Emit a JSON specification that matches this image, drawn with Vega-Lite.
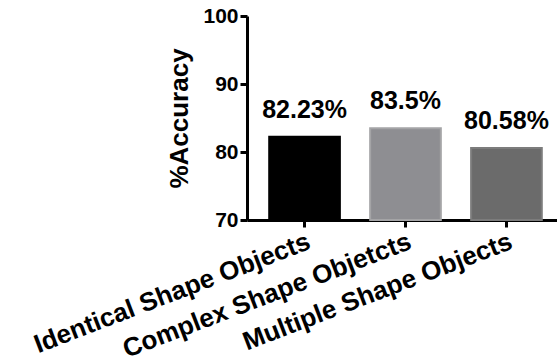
{
  "$schema": "https://vega.github.io/schema/vega-lite/v6.json",
  "width": 317,
  "height": 204,
  "autosize": {"type": "none"},
  "padding": {"left": 247, "top": 16, "right": 0, "bottom": 144},
  "background": "white",
  "config": {
    "view": {"stroke": null},
    "font": "Liberation Sans"
  },
  "data": {
    "values": [
      {"condition": "Identical Shape Objects", "accuracy": 82.23, "label": "82.23%"},
      {"condition": "Complex Shape Objetcts", "accuracy": 83.5, "label": "83.5%"},
      {"condition": "Multiple Shape Objects", "accuracy": 80.58, "label": "80.58%"}
    ]
  },
  "encoding": {
    "x": {
      "field": "condition",
      "type": "nominal",
      "sort": null,
      "scale": {"paddingInner": 0.3, "paddingOuter": 0.22},
      "axis": {
        "title": null,
        "labelAngle": -21,
        "labelAlign": "right",
        "labelBaseline": "top",
        "labelFont": "Liberation Sans",
        "labelFontWeight": "bold",
        "labelFontSize": 26,
        "labelColor": "black",
        "labelPadding": 1,
        "labelLimit": 400,
        "domainColor": "black",
        "domainWidth": 3,
        "tickColor": "black",
        "tickWidth": 3,
        "tickSize": 7
      }
    },
    "y": {
      "field": "accuracy",
      "type": "quantitative",
      "scale": {"domain": [70, 100], "nice": false, "zero": false},
      "axis": {
        "title": "%Accuracy",
        "titleFont": "Liberation Sans",
        "titleFontWeight": "bold",
        "titleFontSize": 26,
        "titleColor": "black",
        "titlePadding": 10,
        "values": [70, 80, 90, 100],
        "grid": false,
        "labelFont": "Liberation Sans",
        "labelFontWeight": "bold",
        "labelFontSize": 21,
        "labelColor": "black",
        "labelPadding": 2,
        "domainColor": "black",
        "domainWidth": 3,
        "tickColor": "black",
        "tickWidth": 3,
        "tickSize": 7
      }
    }
  },
  "layer": [
    {
      "mark": {"type": "bar", "strokeWidth": 2},
      "encoding": {
        "y2": {"datum": 70},
        "color": {
          "field": "condition",
          "type": "nominal",
          "sort": null,
          "scale": {"range": ["#000000", "#8e8e92", "#6b6b6b"]},
          "legend": null
        },
        "stroke": {
          "field": "condition",
          "type": "nominal",
          "sort": null,
          "scale": {"range": ["#000000", "#a4a4a6", "#7c7c7c"]},
          "legend": null
        }
      }
    },
    {
      "mark": {"type": "text", "baseline": "alphabetic", "dy": -19, "font": "Liberation Sans", "fontWeight": "bold", "fontSize": 25, "color": "black"},
      "encoding": {
        "text": {"field": "label"}
      }
    }
  ]
}
